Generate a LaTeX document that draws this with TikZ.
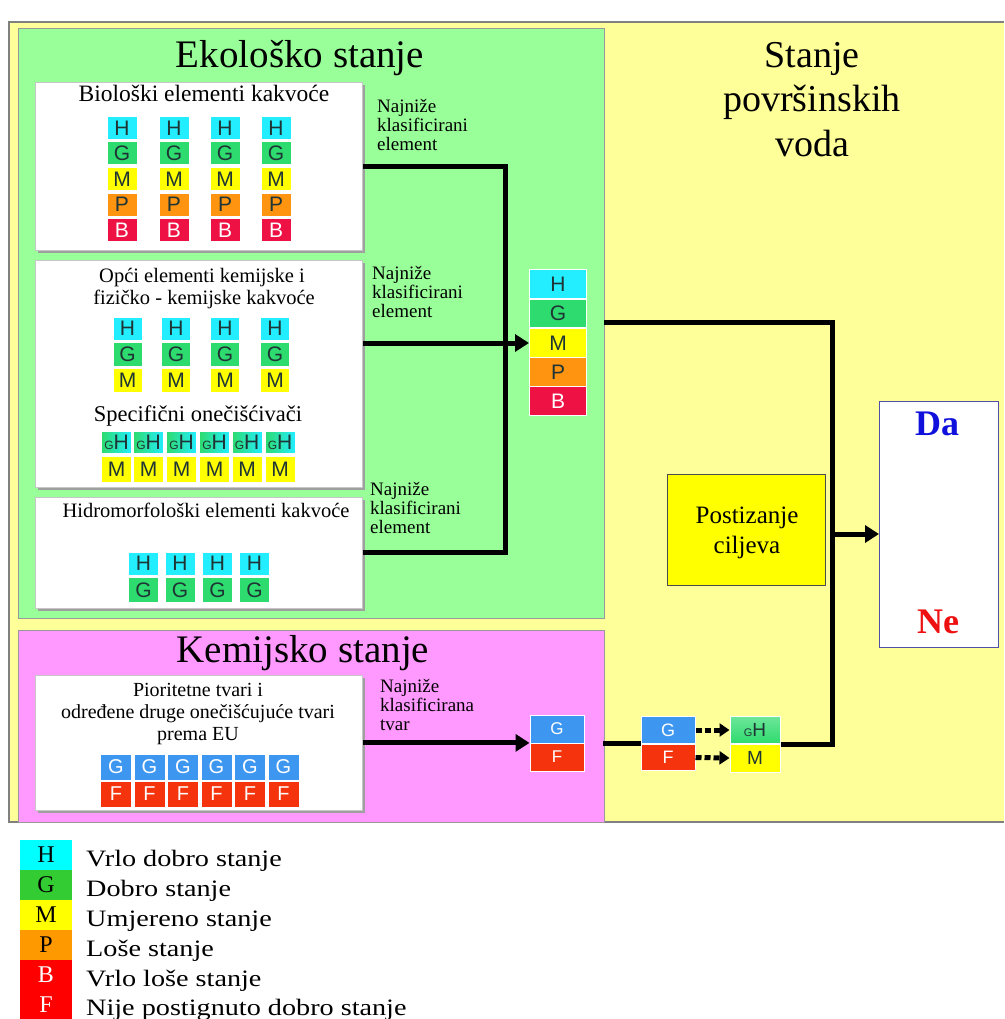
\documentclass[tikz,border=0pt]{standalone}
\usepackage{fontspec}
\setmainfont{Liberation Serif}
\newfontfamily\cellfont{Liberation Sans}
\newfontfamily\legfont[FakeStretch=1.2]{Liberation Serif}
\usetikzlibrary{arrows.meta,shadows}
\newcommand{\myfs}[1]{\fontsize{#1}{#1}\selectfont}
\definecolor{bgY}{HTML}{FFFF99}
\definecolor{bgG}{HTML}{99FF99}
\definecolor{bgP}{HTML}{FF99FF}
\definecolor{cH}{HTML}{22EEFF}
\definecolor{cG}{HTML}{2EDB6E}
\definecolor{cM}{HTML}{FFFF00}
\definecolor{cP}{HTML}{FF9411}
\definecolor{cB}{HTML}{EE1144}
\definecolor{cGb}{HTML}{3D97F0}
\definecolor{cF}{HTML}{F5330D}
\definecolor{txt}{HTML}{1F3535}
\definecolor{lH}{HTML}{00FFFF}
\definecolor{lG}{HTML}{33CC33}
\definecolor{lM}{HTML}{FFFF00}
\definecolor{lP}{HTML}{FF9900}
\definecolor{lR}{HTML}{FF0000}
\definecolor{daBlue}{HTML}{1010DD}
\definecolor{neRed}{HTML}{EE1111}
\definecolor{daEdge}{HTML}{5050A8}
\begin{document}
\begin{tikzpicture}[x=1pt,y=-1pt,
  conn/.style={line width=5pt,draw=black},
  arrowhd/.style={-{Triangle[length=14pt,width=17pt]}},
  dotarr/.style={line width=5pt,dash pattern=on 6pt off 3pt,-{Triangle[length=10pt,width=13pt]}},
  panel/.style={rectangle,draw=gray!80,line width=1.2pt,anchor=north west,inner sep=0pt},
  wbox/.style={rectangle,fill=white,draw=gray!45,line width=0.8pt,anchor=north west,inner sep=0pt,
     drop shadow={shadow xshift=3pt,shadow yshift=-3pt,fill=gray!75,opacity=1}},
  cell/.style={rectangle,draw=white,line width=1pt,inner sep=0pt,text=txt,
     font=\cellfont\myfs{21},minimum width=30pt,minimum height=23pt},
  ohcell/.style={cell,left color=cG,right color=cH},
  bigtitle/.style={font=\myfs{39},anchor=base},
  subt/.style={anchor=base,align=center},
  lbl/.style={anchor=north west,inner sep=0pt,align=left,font=\myfs{19}\linespread{1}\selectfont},
  legcell/.style={rectangle,inner sep=0pt,minimum width=52pt,minimum height=30pt,font=\myfs{24}},
  legtxt/.style={anchor=base west,inner sep=0pt,font=\legfont\myfs{23.5}}
]
\useasboundingbox (0,0) rectangle (1004,1019);
\fill[white] (0,0) rectangle (1004,1019);
% outer yellow area
\fill[bgY] (9,22) rectangle (1004,822);
\draw[gray,line width=1.2pt] (1004,22) -- (9,22) -- (9,822) -- (1004,822);

% panels
\node[panel,fill=bgG,minimum width=586pt,minimum height=590pt] (eco) at (18,28) {};
\node[panel,fill=bgP,minimum width=586pt,minimum height=192pt] (kem) at (18,630) {};

\node[bigtitle] (ecoT) at (300,68) {Ekološko stanje};
\node[bigtitle] (kemT) at (303,662) {Kemijsko stanje};
\node[font=\myfs{38},anchor=base] (st1) at (812,68) {Stanje};
\node[font=\myfs{38},anchor=base] (st2) at (812,112) {površinskih};
\node[font=\myfs{38},anchor=base] (st3) at (812,157) {voda};

% white boxes
\node[wbox,minimum width=327pt,minimum height=168pt] (box1) at (35,82) {};
\node[wbox,minimum width=327pt,minimum height=227pt] (box2) at (35,260) {};
\node[wbox,minimum width=327pt,minimum height=111pt] (box3) at (35,497) {};
\node[wbox,minimum width=327pt,minimum height=135pt] (chem) at (35,675) {};

% box 1
\node[subt,font=\myfs{23.5}] (t1) at (204,102) {Biološki elementi kakvoće};
\foreach \x [count=\i] in {122,174,225,276} {
  \node[cell,fill=cH] (b1H\i) at (\x,128) {H};
  \node[cell,fill=cG] (b1G\i) at (\x,153.5) {G};
  \node[cell,fill=cM] (b1M\i) at (\x,179) {M};
  \node[cell,fill=cP] (b1P\i) at (\x,204.5) {P};
  \node[cell,fill=cB,text=white] (b1B\i) at (\x,230) {B};
}
% box 2
\node[subt,font=\myfs{20.5}] (t2a) at (202,282) {Opći elementi kemijske i};
\node[subt,font=\myfs{20.5}] (t2b) at (204,304) {fizičko - kemijske kakvoće};
\foreach \x [count=\i] in {127.5,176,225,275} {
  \node[cell,minimum width=29pt,fill=cH] (b2H\i) at (\x,328.5) {H};
  \node[cell,minimum width=29pt,minimum height=24pt,fill=cG] (b2G\i) at (\x,354) {G};
  \node[cell,minimum width=29pt,minimum height=24pt,fill=cM] (b2M\i) at (\x,380) {M};
}
\node[subt,font=\myfs{22.5}] (t2c) at (198,421) {Specifični onečišćivači};
\foreach \x [count=\i] in {116.5,148.5,181.5,214.5,247,280} {
  \node[ohcell,minimum width=30pt,minimum height=22pt] (spH\i) at (\x,442.5) {{\myfs{12}G}H};
  \node[cell,minimum width=30pt,minimum height=26pt,fill=cM] (spM\i) at (\x,469) {M};
}
% box 3
\node[subt,font=\myfs{20.5}] (t3) at (206,517) {Hidromorfološki elementi kakvoće};
\foreach \x [count=\i] in {143.5,180,217.5,254.5} {
  \node[cell,minimum width=30pt,fill=cH] (b3H\i) at (\x,563.5) {H};
  \node[cell,minimum width=30pt,minimum height=25pt,fill=cG] (b3G\i) at (\x,590) {G};
}
% chem box
\node[subt,font=\myfs{20}] (c1) at (198,696) {Pioritetne tvari i};
\node[subt,font=\myfs{20}] (c2) at (198,718) {određene druge onečišćujuće tvari};
\node[subt,font=\myfs{20}] (c3) at (198,740) {prema EU};
\foreach \x [count=\i] in {116,149.5,183,216.5,250,283.5} {
  \node[cell,minimum width=31pt,minimum height=26pt,fill=cGb,text=white,font=\cellfont\myfs{20}] (cG\i) at (\x,767) {G};
  \node[cell,minimum width=31pt,minimum height=26pt,fill=cF,text=white,font=\cellfont\myfs{20}] (cF\i) at (\x,794) {F};
}

% labels
\node[lbl] (l1) at (377,99) {Najniže\\klasificirani\\element};
\node[lbl] (l2) at (372,266) {Najniže\\klasificirani\\element};
\node[lbl] (l3) at (370,482) {Najniže\\klasificirani\\element};
\node[lbl] (l4) at (380,679) {Najniže\\klasificirana\\tvar};

% result stack (ecological)
\foreach \r/\c/\y/\t in {H/cH/284/txt,G/cG/313.5/txt,M/cM/343/txt,P/cP/372/txt,B/cB/401/white} {
  \node[cell,minimum width=57pt,minimum height=28.5pt,fill=\c,text=\t] (r\r) at (558,\y) {\r};
}
% chemical stacks
\node[cell,minimum width=54pt,minimum height=28pt,fill=cGb,text=white,font=\cellfont\myfs{17}] (k1G) at (557,729) {G};
\node[cell,minimum width=54pt,minimum height=28pt,fill=cF,text=white,font=\cellfont\myfs{17}] (k1F) at (557,757) {F};
\node[cell,minimum width=54pt,minimum height=27pt,fill=cGb,text=white,font=\cellfont\myfs{18}] (k2G) at (668,730) {G};
\node[cell,minimum width=54pt,minimum height=26pt,fill=cF,text=white,font=\cellfont\myfs{18}] (k2F) at (668,757.5) {F};
\node[cell,minimum width=50pt,minimum height=27pt,top color=cG!70!white,bottom color=cG,font=\cellfont\myfs{19}] (k3H) at (755,730) {{\myfs{11}G}H};
\node[cell,minimum width=50pt,minimum height=28pt,fill=cM,font=\cellfont\myfs{19}] (k3M) at (755,758) {M};

% goal box and result box
\node[rectangle,draw=gray!60!black,line width=1.3pt,fill=cM,anchor=north west,minimum width=158pt,minimum height=111pt,inner sep=0pt] (goal) at (667,474) {};
\node[anchor=base,font=\myfs{25}] (g1) at (747,523) {Postizanje};
\node[anchor=base,font=\myfs{25}] (g2) at (747,553) {ciljeva};
\node[rectangle,draw=daEdge,line width=1.3pt,fill=white,anchor=north west,minimum width=119pt,minimum height=246pt,inner sep=0pt] (dane) at (879,401) {};
\node[anchor=base,font=\bfseries\myfs{36},text=daBlue] (da) at (937,435) {Da};
\node[anchor=base,font=\bfseries\myfs{36},text=neRed] (ne) at (938,633) {Ne};

% connectors
\coordinate (jn) at (505,343);
\draw[conn] (box1.east) -| (jn);
\draw[conn] (box3.east) -| (jn);
\draw[conn,arrowhd] (box2.east |- jn) -- (rM.west);
\draw[conn,arrowhd] (chem.east) -- (chem.east -| k1G.south west);
\coordinate (chemOut) at (603,743.5);
\draw[conn] (chemOut) -- (chemOut -| k2G.west);
\draw[dotarr] (k2G.east) -- (k3H.west);
\draw[dotarr] (k2F.east) -- (k3M.west);
\coordinate (ecoOut) at (604,322);
\coordinate (tr) at (832,534);
\draw[conn] (ecoOut) -| (tr);
\draw[conn] (k3H.south east) -| (tr);
\draw[conn,arrowhd] (tr) -- (dane.west |- tr);

% legend
\foreach \l/\c/\y/\t/\d in {H/lH/855/black/Vrlo dobro stanje,G/lG/885/black/Dobro stanje,M/lM/915/black/Umjereno stanje,P/lP/945/black/Loše stanje,B/lR/975/white/Vrlo loše stanje} {
  \node[legcell,fill=\c,text=\t] (lg\l) at (46,\y) {\l};
  \node[legtxt] (lt\l) at (86,\y+11) {\d};
}
\node[legcell,fill=lR,text=white,minimum height=29pt] (lgF) at (46,1004.5) {F};
\node[legtxt] (ltF) at (86,1015) {Nije postignuto dobro stanje};
\end{tikzpicture}
\end{document}
